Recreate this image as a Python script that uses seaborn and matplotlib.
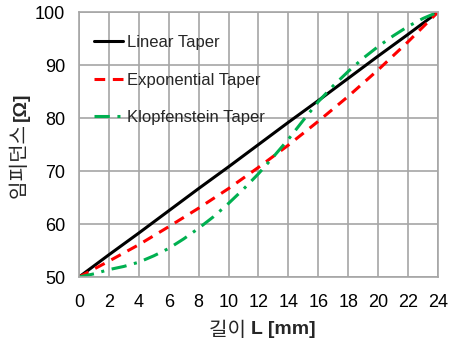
import matplotlib
matplotlib.use("Agg")
import matplotlib.pyplot as plt
import seaborn as sns
import pandas as pd

# Impedance profiles of three taper types along the line length
length_mm = [0, 2, 4, 6, 8, 10, 12, 14, 16, 18, 20, 22, 24]
linear_taper = [50, 54.2, 58.3, 62.5, 66.7, 70.8, 75, 79.2, 83.3, 87.5, 91.7, 95.8, 100]
exponential_taper = [50, 53.0, 56.1, 59.5, 63.0, 66.7, 70.7, 74.9, 79.4, 84.1, 89.1, 94.4, 100]

klop_length_mm = list(range(0, 25))
klopfenstein_taper = [50, 50.6, 51.4, 52.0, 52.8, 54.0, 55.4, 57.2, 59.2, 61.4, 63.9,
                      66.6, 69.5, 72.7, 76.0, 79.6, 83.1, 86.1, 88.8, 91.3, 93.5,
                      95.5, 97.3, 98.8, 100]

x_ticks = list(range(0, 25, 2))
y_ticks = [50, 60, 70, 80, 90, 100]

sns.set_style("white")
plt.rcParams["font.family"] = ["Liberation Sans", "Noto Sans CJK KR", "DejaVu Sans"]

fig = plt.figure(figsize=(4.55, 3.45), dpi=100)
ax = fig.add_axes([0.1736, 0.197, 0.789, 0.768])

grid_color = "#a6a6a6"
for xv in x_ticks:
    ax.axvline(xv, color=grid_color, lw=1.2, zorder=0)
for yv in y_ticks:
    ax.axhline(yv, color=grid_color, lw=1.2, zorder=0)

df_lin = pd.DataFrame({"L": length_mm, "Z": linear_taper})
df_exp = pd.DataFrame({"L": length_mm, "Z": exponential_taper})
df_klop = pd.DataFrame({"L": klop_length_mm, "Z": klopfenstein_taper})

sns.lineplot(data=df_lin, x="L", y="Z", ax=ax, color="black", lw=2.2,
             label="Linear Taper")
sns.lineplot(data=df_exp, x="L", y="Z", ax=ax, color="#ff0000", lw=2.2,
             label="Exponential Taper")
sns.lineplot(data=df_klop, x="L", y="Z", ax=ax, color="#00b050", lw=2.2,
             label="Klopfenstein Taper")
ax.lines[-2].set_dashes([3.5, 2.5])
ax.lines[-1].set_dashes([5, 2.5, 1, 2.5])

ax.set_xlim(0, 24)
ax.set_ylim(50, 100)
ax.set_xticks(x_ticks)
ax.set_yticks(y_ticks)
ax.tick_params(axis="x", labelsize=13, length=0, pad=12, colors="black")
ax.tick_params(axis="y", labelsize=13, length=0, pad=10, colors="black")
for s in ax.spines.values():
    s.set_color(grid_color)
    s.set_linewidth(1.2)
ax.set_xlabel("")
ax.set_ylabel("")

# Axis titles: Korean part in a regular face, unit part in bold
kfont = ["Noto Sans CJK KR", "DejaVu Sans"]
bfont = ["Liberation Sans", "DejaVu Sans"]

xl1 = fig.text(0.505, 1 - 330 / 345, "길이 ", fontsize=14.5, family=kfont,
               ha="center", va="center")
ax.annotate("L [mm]", xy=(1, 0.5), xycoords=xl1, ha="left", va="center",
            fontsize=14, fontweight="bold", family=bfont)

yl1 = fig.text(21 / 455, 0.536, "임피던스 ", fontsize=14.5, family=kfont,
               rotation=90, ha="center", va="center")
ax.annotate("[Ω]", xy=(0.5, 1), xycoords=yl1, ha="center", va="bottom",
            rotation=90, fontsize=14, fontweight="bold", family=bfont)

leg = ax.legend(loc="upper left", bbox_to_anchor=(0.0425, 0.913), frameon=False,
                fontsize=12, handlelength=1.7, handletextpad=0.25,
                labelspacing=1.35, borderaxespad=0, borderpad=0)
for h in leg.get_lines():
    h.set_linewidth(2.2)

fig.savefig("out.png", dpi=100)
